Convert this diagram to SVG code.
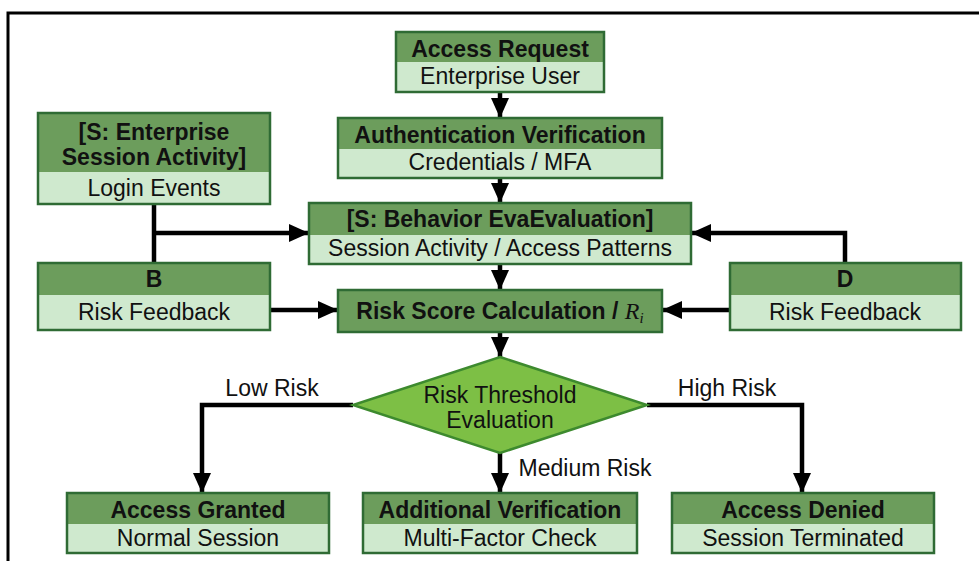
<svg xmlns="http://www.w3.org/2000/svg" width="979" height="561" viewBox="0 0 979 561">
<defs>
<marker id="ah" markerUnits="userSpaceOnUse" markerWidth="22" markerHeight="22" viewBox="0 0 22 22" refX="20" refY="11" orient="auto">
<path d="M0,2 L20,11 L0,20 Z" fill="#000"/>
</marker>
<style>
.hd{fill:#6c9d5c;}
.bd{fill:#cfe9ce;}
.bx{fill:none;stroke:#2f6b34;stroke-width:2.5;}
.t{font-family:"Liberation Sans",Arial,Helvetica,sans-serif;text-anchor:middle;fill:#111;}
.b{font-weight:bold;font-size:23px;}
.r{font-size:23px;}
.c{fill:none;stroke:#000;stroke-width:4.5;}
.ca{fill:none;stroke:#000;stroke-width:4.5;marker-end:url(#ah);}
</style>
</defs>
<rect width="979" height="561" fill="#fff"/>
<path d="M8,561 V13 H979" fill="none" stroke="#000" stroke-width="3"/>

<g id="connectors">
<path class="ca" d="M500,92 V118"/>
<path class="ca" d="M500,178 V203"/>
<path class="c" d="M154,204 V263"/>
<path class="ca" d="M152,233 H309"/>
<path class="ca" d="M270,310 H338"/>
<path class="ca" d="M845,263 V233 H691"/>
<path class="ca" d="M730,310 H662"/>
<path class="ca" d="M500,264 V290"/>
<path class="ca" d="M500,332 V357"/>
<path class="ca" d="M353,405 H202 V493"/>
<path class="ca" d="M500,453 V493"/>
<path class="ca" d="M647,405 H802 V493"/>
<text class="t r" x="272" y="396">Low Risk</text>
<text class="t r" x="727" y="396">High Risk</text>
<text class="t r" x="585" y="476">Medium Risk</text>
</g>

<g id="access-request">
<rect class="hd" x="396" y="32" width="208" height="30"/>
<rect class="bd" x="396" y="62" width="208" height="30"/>
<rect class="bx" x="396" y="32" width="208" height="60"/>
<text class="t b" x="500" y="57">Access Request</text>
<text class="t r" x="500" y="84">Enterprise User</text>
</g>

<g id="authentication">
<rect class="hd" x="338" y="118" width="324" height="31"/>
<rect class="bd" x="338" y="149" width="324" height="29"/>
<rect class="bx" x="338" y="118" width="324" height="60"/>
<text class="t b" x="500" y="143">Authentication Verification</text>
<text class="t r" x="500" y="170">Credentials / MFA</text>
</g>

<g id="session-activity">
<rect class="hd" x="38" y="113" width="232" height="59"/>
<rect class="bd" x="38" y="172" width="232" height="32"/>
<rect class="bx" x="38" y="113" width="232" height="91"/>
<text class="t b" x="154" y="140">[S: Enterprise</text>
<text class="t b" x="154" y="165">Session Activity]</text>
<text class="t r" x="154" y="196">Login Events</text>
</g>

<g id="node-b">
<rect class="hd" x="38" y="263" width="232" height="32"/>
<rect class="bd" x="38" y="295" width="232" height="35"/>
<rect class="bx" x="38" y="263" width="232" height="67"/>
<text class="t b" x="154" y="287">B</text>
<text class="t r" x="154" y="320">Risk Feedback</text>
</g>

<g id="behavior">
<rect class="hd" x="309" y="203" width="382" height="32"/>
<rect class="bd" x="309" y="235" width="382" height="29"/>
<rect class="bx" x="309" y="203" width="382" height="61"/>
<text class="t b" x="500" y="227">[S: Behavior EvaEvaluation]</text>
<text class="t r" x="500" y="256">Session Activity / Access Patterns</text>
</g>

<g id="risk-score">
<rect class="hd" x="338" y="290" width="324" height="42"/>
<rect class="bx" x="338" y="290" width="324" height="42"/>
<text class="t b" x="500" y="319">Risk Score Calculation / <tspan font-family="Liberation Serif,serif" font-style="italic" font-weight="normal" font-size="24">R</tspan><tspan font-family="Liberation Serif,serif" font-style="italic" font-weight="normal" font-size="15" dy="4">i</tspan></text>
</g>

<g id="node-d">
<rect class="hd" x="730" y="263" width="231" height="32"/>
<rect class="bd" x="730" y="295" width="231" height="35"/>
<rect class="bx" x="730" y="263" width="231" height="67"/>
<text class="t b" x="845" y="287">D</text>
<text class="t r" x="845" y="320">Risk Feedback</text>
</g>

<g id="threshold">
<polygon points="500,357 647,405 500,453 353,405" fill="#7dbf45" stroke="#3d8a2e" stroke-width="2.5"/>
<text class="t r" x="500" y="403" font-size="24">Risk Threshold</text>
<text class="t r" x="500" y="428" font-size="24">Evaluation</text>
</g>

<g id="access-granted">
<rect class="hd" x="67" y="493" width="262" height="31"/>
<rect class="bd" x="67" y="524" width="262" height="29"/>
<rect class="bx" x="67" y="493" width="262" height="60"/>
<text class="t b" x="198" y="518">Access Granted</text>
<text class="t r" x="198" y="546">Normal Session</text>
</g>

<g id="additional-verification">
<rect class="hd" x="363" y="493" width="274" height="31"/>
<rect class="bd" x="363" y="524" width="274" height="29"/>
<rect class="bx" x="363" y="493" width="274" height="60"/>
<text class="t b" x="500" y="518">Additional Verification</text>
<text class="t r" x="500" y="546">Multi-Factor Check</text>
</g>

<g id="access-denied">
<rect class="hd" x="672" y="493" width="262" height="31"/>
<rect class="bd" x="672" y="524" width="262" height="29"/>
<rect class="bx" x="672" y="493" width="262" height="60"/>
<text class="t b" x="803" y="518">Access Denied</text>
<text class="t r" x="803" y="546">Session Terminated</text>
</g>
</svg>
